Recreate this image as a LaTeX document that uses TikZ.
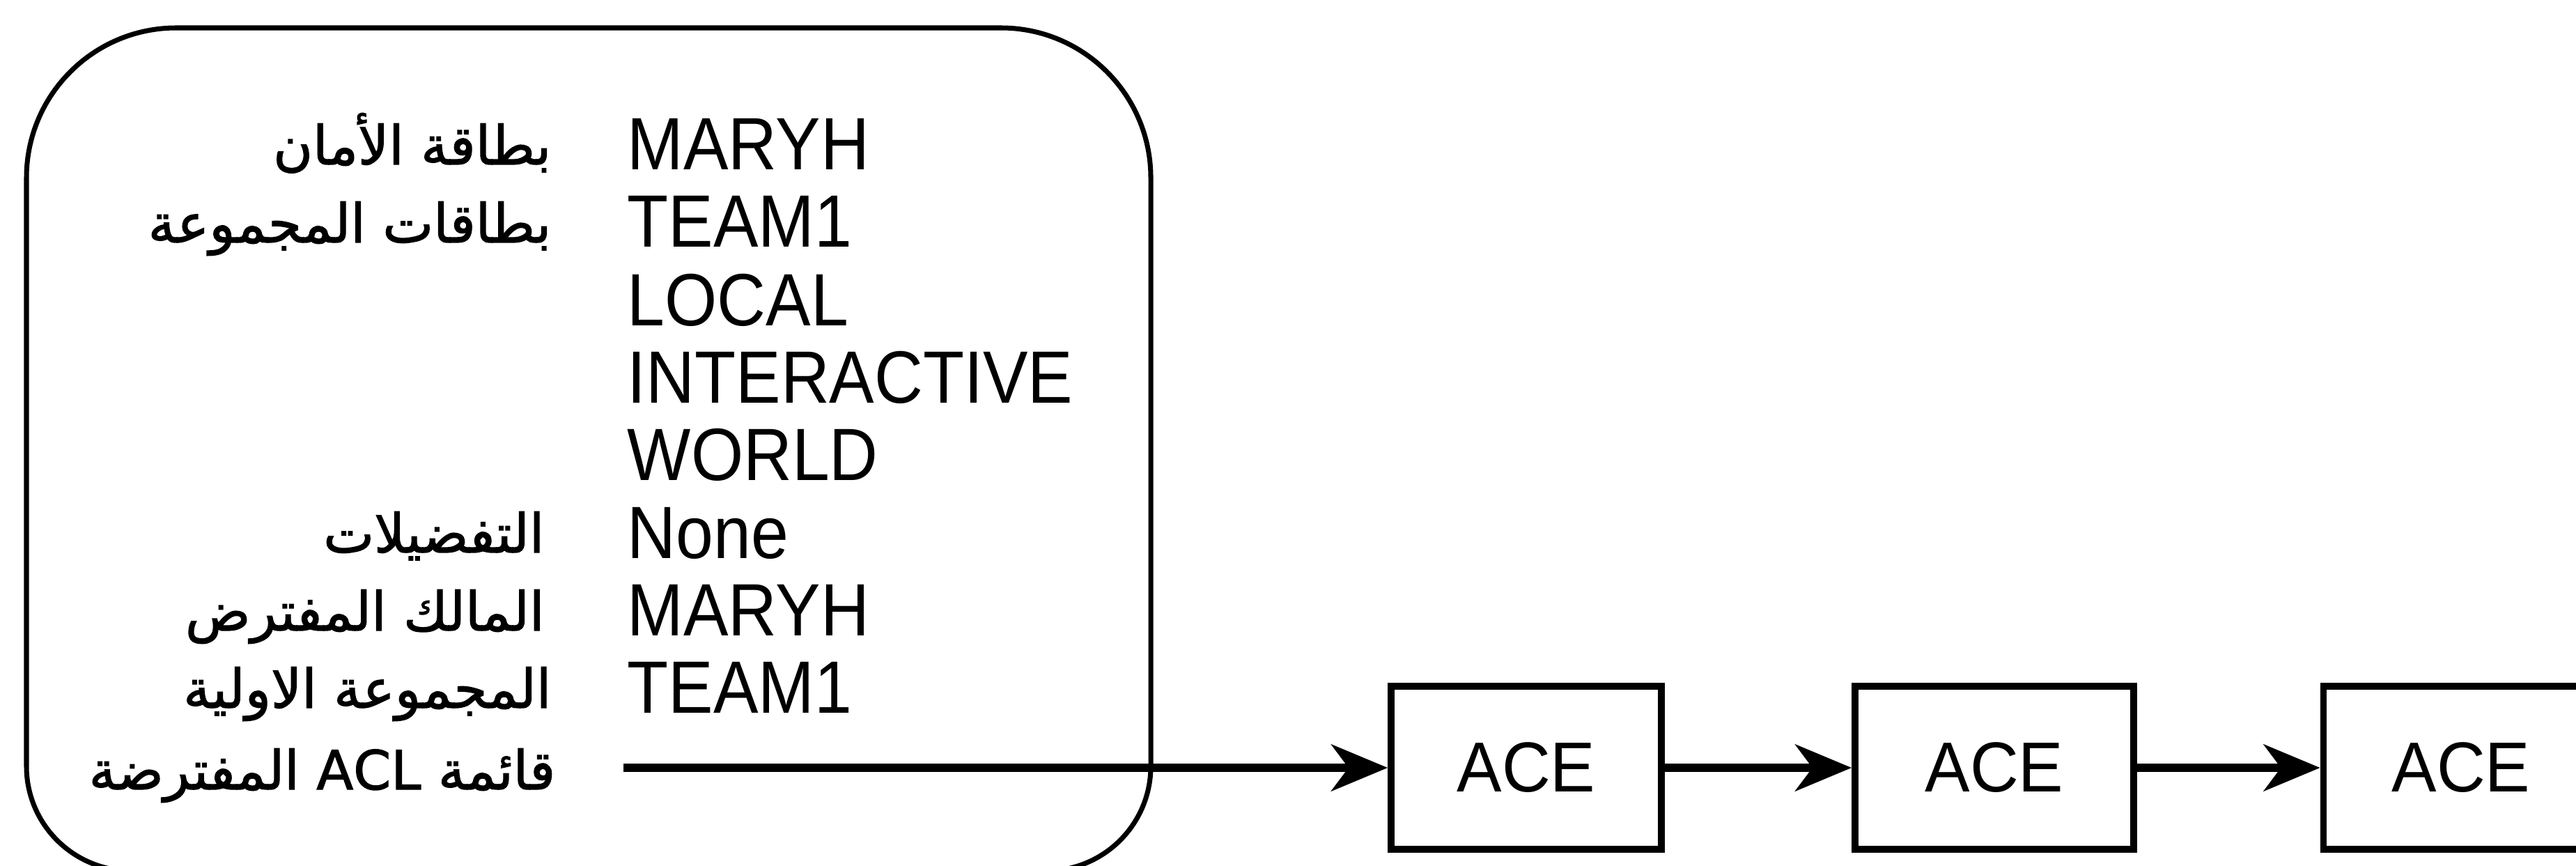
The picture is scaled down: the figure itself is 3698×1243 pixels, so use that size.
\documentclass[tikz,border=0pt]{standalone}
\usepackage{fontspec}
\setmainfont{Liberation Sans}
\newfontfamily\arabicfont[Script=Arabic,FakeBold=1.6]{DejaVu Sans}
\TeXXeTstate=1
\usetikzlibrary{arrows.meta}
\begin{document}
\begin{tikzpicture}[x=0.01cm,y=-0.01cm,
  en/.style={font=\fontsize{27.5pt}{30pt}\selectfont, inner sep=0pt, anchor=base west},
  ar/.style={font=\arabicfont\fontsize{22pt}{26pt}\selectfont, inner sep=0pt, anchor=base east},
  acebox/.style={draw, line width=2.7pt, minimum height=2.34cm, inner sep=0pt,
    font=\fontsize{27.5pt}{30pt}\selectfont},
  conn/.style={line width=3.4pt, -{Stealth[length=23pt,width=19pt,inset=7pt]}},
  frame/.style={line width=2pt}]
\useasboundingbox (0,0) rectangle (3698,1243);
% rounded container
\draw[frame] (38,700) [rounded corners=2.15cm] -- (38,40) -- (1652,40) -- (1652,700)
  [rounded corners=1.5cm] -- (1652,1250) -- (38,1250) -- cycle;
% English values
\node[en] (v1) at (900,244) {\scalebox{1}[1.1]{MARYH}};
\node[en] (v2) at (900,355) {\scalebox{1}[1.1]{TEAM1}};
\node[en] (v3) at (900,467) {\scalebox{1}[1.1]{LOCAL}};
\node[en] (v4) at (900,578) {\scalebox{1}[1.1]{INTERACTIVE}};
\node[en] (v5) at (900,689) {\scalebox{1}[1.1]{WORLD}};
\node[en] (v6) at (900,801) {\scalebox{1}[1.1]{None}};
\node[en] (v7) at (900,912) {\scalebox{1}[1.1]{MARYH}};
\node[en] (v8) at (900,1023) {\scalebox{1}[1.1]{TEAM1}};
% Arabic labels
\node[ar] (l1) at (792,236) {\beginR بطاقة الأمان\endR};
\node[ar] (l2) at (792,348) {\beginR بطاقات المجموعة\endR};
\node[ar] (l3) at (782,793) {\beginR التفضيلات\endR};
\node[ar] (l4) at (782,905) {\beginR المالك المفترض\endR};
\node[ar] (l5) at (792,1016) {\beginR المجموعة الاولية\endR};
\node[ar] (l6) at (798,1133) {\beginR قائمة \beginL ACL\endL{} المفترضة\endR};
% ACE chain
\coordinate (aclstart) at (895,1102);
\node[acebox, minimum width=3.88cm] (ace1) at (2191,1102) {\scalebox{1}[1.05]{ACE}};
\node[acebox, minimum width=4.00cm] (ace2) at (2863,1102) {\scalebox{1}[1.05]{ACE}};
\node[acebox, minimum width=3.95cm] (ace3) at (3533,1102) {\scalebox{1}[1.05]{ACE}};
\draw[conn] (aclstart) -- (ace1.west);
\draw[conn] (ace1.east) -- (ace2.west);
\draw[conn] (ace2.east) -- (ace3.west);
\end{tikzpicture}
\end{document}
